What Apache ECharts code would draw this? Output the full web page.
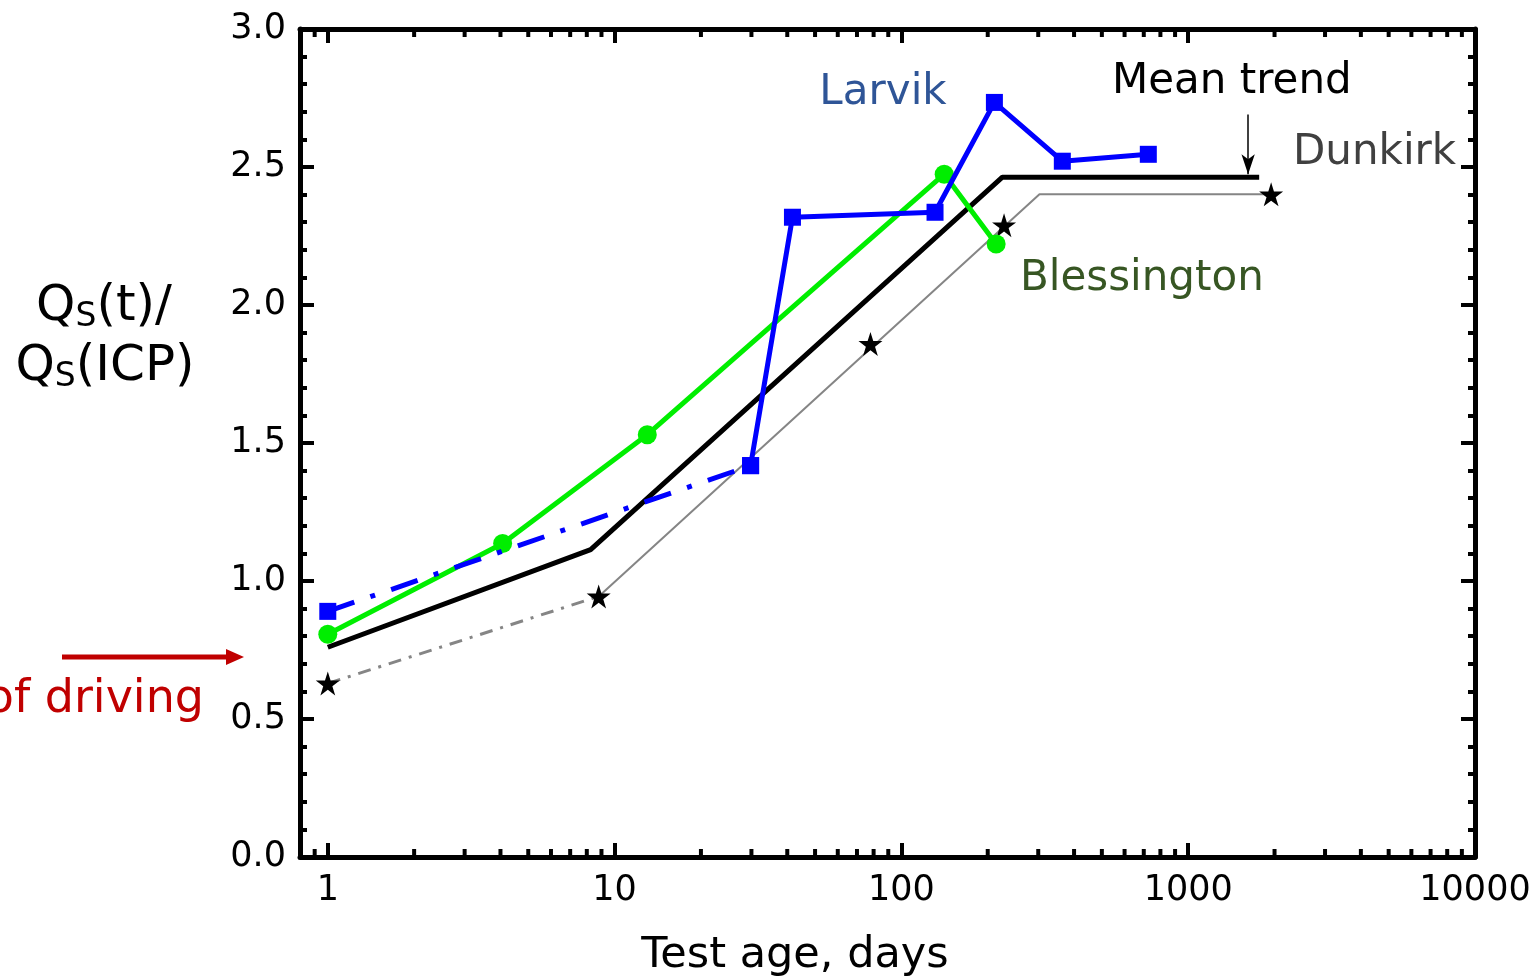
<!DOCTYPE html>
<html>
<head>
<meta charset="utf-8">
<script src="https://cdn.jsdelivr.net/npm/echarts@6/dist/echarts.min.js"></script>
<style>
html,body{margin:0;padding:0;background:#fff;}
#chart{width:1540px;height:980px;}
</style>
</head>
<body>
<div id="chart"></div>
<script>
// ---- data ----
const xTickValues = [1, 10, 100, 1000, 10000];
const xMinorTicks = [0.9, 2, 3, 4, 5, 6, 7, 8, 9, 20, 30, 40, 50, 60, 70, 80, 90,
  200, 300, 400, 500, 600, 700, 800, 900, 2000, 3000, 4000, 5000, 6000, 7000, 8000, 9000];
const yTickLabels = ['0.0', '0.5', '1.0', '1.5', '2.0', '2.5', '3.0'];

const larvikEarly = [[1, 0.89], [29.8, 1.418]];
const larvikLate = [[29.8, 1.418], [41.7, 2.318], [131, 2.336], [211, 2.734], [364, 2.521], [726, 2.546]];
const blessington = [[1, 0.807], [4.07, 1.136], [13.0, 1.530], [141, 2.474], [214, 2.221]];
const meanTrend = [[1, 0.76], [8.25, 1.114], [225, 2.463], [1768, 2.463]];
const dunkirkStars = [[1, 0.629], [8.8, 0.944], [78, 1.859], [228, 2.289], [1946, 2.401]];
const dunkirkFitEarly = [[1, 0.629], [8.8, 0.944]];
const dunkirkFitLate = [[8.8, 0.944], [303, 2.401], [1946, 2.401]];
const meanArrow = [[1618, 2.69], [1618, 2.474]];

const FONT = '"DejaVu Sans", Verdana, sans-serif';
const STAR = 'path://M50,0 L61.2,34.5 L97.6,34.5 L68.2,55.9 L79.4,90.5 L50,69.1 L20.6,90.5 L31.8,55.9 L2.4,34.5 L38.8,34.5 Z';

const chart = echarts.init(document.getElementById('chart'), null, {renderer: 'canvas'});

const xAxisBase = {
  type: 'log', logBase: 10, min: 0.8, max: 10000,
  axisLine: {show: true, onZero: false, lineStyle: {color: '#000', width: 5}},
  axisTick: {show: true, inside: true, length: 14, lineStyle: {color: '#000', width: 4}},
  splitLine: {show: false},
  minorTick: {show: false},
};
const yAxisBase = {
  type: 'value', min: 0, max: 3, interval: 0.5,
  axisLine: {show: true, onZero: false, lineStyle: {color: '#000', width: 5}},
  axisTick: {show: true, inside: true, length: 14, lineStyle: {color: '#000', width: 4}},
  minorTick: {show: true, splitNumber: 5, length: 7, lineStyle: {color: '#000', width: 4}},
  splitLine: {show: false},
};

const richQ = {
  q: {fontFamily: FONT, fontSize: 50, color: '#000', lineHeight: 54},
  s: {fontFamily: FONT, fontSize: 33, color: '#000', lineHeight: 28, verticalAlign: 'bottom'}
};

const option = {
  animation: false,
  backgroundColor: '#fff',
  grid: {left: 300, right: 65, top: 29, bottom: 123, containLabel: false},
  xAxis: [
    Object.assign({}, xAxisBase, {
      position: 'bottom',
      axisLabel: {
        show: true, margin: 16, fontFamily: FONT, fontSize: 35, color: '#000',
        formatter: function (v) {
          for (const t of xTickValues) { if (Math.abs(v - t) / t < 1e-6) return String(t); }
          return '';
        }
      }
    }),
    Object.assign({}, xAxisBase, {position: 'top', axisLabel: {show: false}})
  ],
  yAxis: [
    Object.assign({}, yAxisBase, {
      position: 'left',
      axisLabel: {
        show: true, margin: 14, fontFamily: FONT, fontSize: 35, color: '#000',
        formatter: function (v) { return yTickLabels[Math.round(v / 0.5)]; }
      }
    }),
    Object.assign({}, yAxisBase, {position: 'right', axisLabel: {show: false}})
  ],
  graphic: [
    {type: 'text', x: 795, y: 956, style: {text: 'Test age, days', fontFamily: FONT, fontSize: 43, fill: '#000', align: 'center', verticalAlign: 'middle'}},
    {type: 'text', x: 104, y: 307, style: {text: '{q|Q}{s|S}{q|(t)/}', align: 'center', verticalAlign: 'middle', rich: richQ}},
    {type: 'text', x: 105, y: 367, style: {text: '{q|Q}{s|S}{q|(ICP)}', align: 'center', verticalAlign: 'middle', rich: richQ}},
    {type: 'text', x: 883, y: 93, style: {text: 'Larvik', fontFamily: FONT, fontSize: 42, fill: '#2f5597', align: 'center', verticalAlign: 'middle'}},
    {type: 'text', x: 1112, y: 82, style: {text: 'Mean trend', fontFamily: FONT, fontSize: 42, fill: '#000', align: 'left', verticalAlign: 'middle'}},
    {type: 'text', x: 1293, y: 153, style: {text: 'Dunkirk', fontFamily: FONT, fontSize: 42, fill: '#404040', align: 'left', verticalAlign: 'middle'}},
    {type: 'text', x: 1020, y: 279, style: {text: 'Blessington', fontFamily: FONT, fontSize: 42, fill: '#375623', align: 'left', verticalAlign: 'middle'}},
    {type: 'text', x: 204, y: 700, style: {text: 'End of driving', fontFamily: FONT, fontSize: 46, fill: '#c00000', align: 'right', verticalAlign: 'middle'}},
    {type: 'line', shape: {x1: 62, y1: 657, x2: 230, y2: 657}, style: {stroke: '#c00000', lineWidth: 5}},
    {type: 'polygon', shape: {points: [[226, 649], [244, 657], [226, 665]]}, style: {fill: '#c00000'}}
  ],
  series: [
    {
      name: 'xMinorTicks', type: 'custom', xAxisIndex: 0, yAxisIndex: 0, silent: true, clip: false, z: 1,
      data: xMinorTicks.map(v => [v, 0]),
      renderItem: function (params, api) {
        const v = api.value(0);
        const b = api.coord([v, 0]);
        const t = api.coord([v, 3]);
        return {
          type: 'group',
          children: [
            {type: 'line', shape: {x1: b[0], y1: b[1], x2: b[0], y2: b[1] - 8}, style: {stroke: '#000', lineWidth: 4}},
            {type: 'line', shape: {x1: t[0], y1: t[1], x2: t[0], y2: t[1] + 8}, style: {stroke: '#000', lineWidth: 4}}
          ]
        };
      }
    },
    {
      name: 'Dunkirk fit (early)', type: 'line', data: dunkirkFitEarly, symbol: 'none', z: 2,
      lineStyle: {color: '#858585', width: 3, type: [13, 8, 3, 8]}
    },
    {
      name: 'Dunkirk fit', type: 'line', data: dunkirkFitLate, symbol: 'none', z: 2,
      lineStyle: {color: '#858585', width: 2}
    },
    {
      name: 'Dunkirk', type: 'scatter', data: dunkirkStars, symbol: STAR, symbolSize: 24, z: 3,
      itemStyle: {color: '#000', opacity: 1}
    },
    {
      name: 'Mean trend', type: 'line', data: meanTrend, symbol: 'none', z: 4,
      lineStyle: {color: '#000', width: 5},
      markLine: {
        silent: true, symbol: ['none', 'arrow'], symbolSize: [10, 20],
        lineStyle: {color: '#000', width: 1.5, type: 'solid'},
        label: {show: false},
        data: [[{coord: meanArrow[0]}, {coord: meanArrow[1]}]]
      }
    },
    {
      name: 'Blessington', type: 'line', data: blessington, symbol: 'circle', symbolSize: 19, z: 5,
      lineStyle: {color: '#00ee00', width: 5}, itemStyle: {color: '#00ee00'}
    },
    {
      name: 'Larvik (early)', type: 'line', data: larvikEarly, symbol: 'rect', symbolSize: 17, z: 6,
      lineStyle: {color: '#0000ff', width: 5, type: [28, 17, 5, 17]}, itemStyle: {color: '#0000ff'}
    },
    {
      name: 'Larvik', type: 'line', data: larvikLate, symbol: 'rect', symbolSize: 17, z: 6,
      lineStyle: {color: '#0000ff', width: 5}, itemStyle: {color: '#0000ff'}
    }
  ]
};
chart.setOption(option);
</script>
</body>
</html>
